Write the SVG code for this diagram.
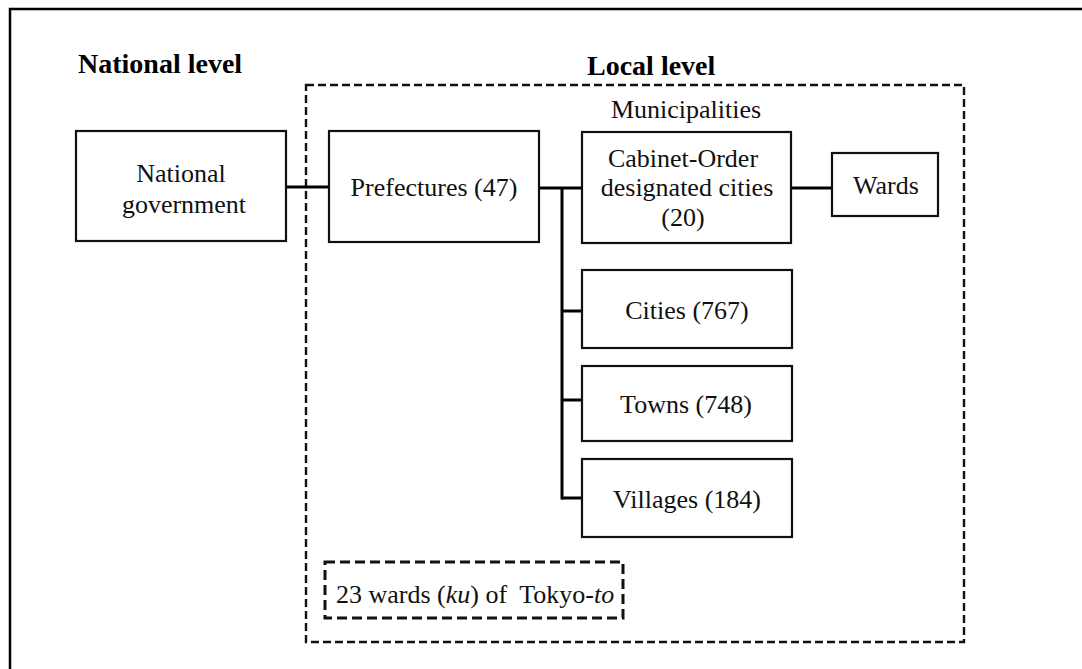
<svg xmlns="http://www.w3.org/2000/svg" width="1082" height="669" viewBox="0 0 1082 669">
  <style>
    .box { fill: #fff; stroke: #111; stroke-width: 2.2; }
    .dash { fill: none; stroke: #111; stroke-width: 2.4; stroke-dasharray: 8 4; }
    .dash-heavy { fill: none; stroke: #111; stroke-width: 3; stroke-dasharray: 10 5; }
    .wire { fill: none; stroke: #000; stroke-width: 3; }
    .t { font-family: "Liberation Serif", "Times New Roman", serif; font-size: 26px; fill: #111; text-anchor: middle; }
    .h { font-family: "Liberation Serif", "Times New Roman", serif; font-size: 28px; font-weight: bold; fill: #000; }
    .it { font-style: italic; }
  </style>

  <rect width="1082" height="669" fill="#fff"/>

  <!-- page frame -->
  <polyline points="10,669 10,9 1082,9" fill="none" stroke="#000" stroke-width="2.5"/>

  <!-- level headings -->
  <text class="h" x="78" y="73">National level</text>
  <text class="h" x="587" y="75">Local level</text>

  <!-- local level enclosure -->
  <g id="local-level">
    <rect class="dash" x="306" y="85" width="658" height="557"/>
    <text class="t" x="686" y="118">Municipalities</text>
  </g>

  <!-- connectors -->
  <g id="connectors">
    <line class="wire" x1="286" y1="187" x2="329" y2="187"/>
    <line class="wire" x1="539" y1="188" x2="582" y2="188"/>
    <line class="wire" x1="562" y1="188" x2="562" y2="499.5"/>
    <line class="wire" x1="791" y1="188" x2="832" y2="188"/>
    <line class="wire" x1="562" y1="311" x2="582" y2="311"/>
    <line class="wire" x1="562" y1="400" x2="582" y2="400"/>
    <line class="wire" x1="562" y1="498" x2="582" y2="498"/>
  </g>

  <g id="national-government">
    <rect class="box" x="76" y="131" width="210" height="110"/>
    <text class="t" x="181" y="182">National</text>
    <text class="t" x="184" y="213">government</text>
  </g>

  <g id="prefectures">
    <rect class="box" x="329" y="131" width="210" height="111"/>
    <text class="t" x="434" y="196">Prefectures (47)</text>
  </g>

  <g id="designated-cities">
    <rect class="box" x="582" y="132" width="209" height="111"/>
    <text class="t" x="683" y="167">Cabinet-Order</text>
    <text class="t" x="687" y="196">designated cities</text>
    <text class="t" x="683" y="226">(20)</text>
  </g>

  <g id="wards">
    <rect class="box" x="832" y="153" width="106" height="63"/>
    <text class="t" x="886" y="194">Wards</text>
  </g>

  <g id="cities">
    <rect class="box" x="582" y="270" width="210" height="78"/>
    <text class="t" x="687" y="319">Cities (767)</text>
  </g>

  <g id="towns">
    <rect class="box" x="582" y="366" width="210" height="75"/>
    <text class="t" x="686" y="413">Towns (748)</text>
  </g>

  <g id="villages">
    <rect class="box" x="582" y="459" width="210" height="78"/>
    <text class="t" x="687" y="508">Villages (184)</text>
  </g>

  <g id="tokyo-wards">
    <rect class="dash-heavy" x="325" y="562" width="298" height="56"/>
    <text class="t" x="336" y="603" style="text-anchor:start">23 wards (<tspan class="it">ku</tspan>) of <tspan dx="6">Tokyo-</tspan><tspan class="it">to</tspan></text>
  </g>
</svg>
